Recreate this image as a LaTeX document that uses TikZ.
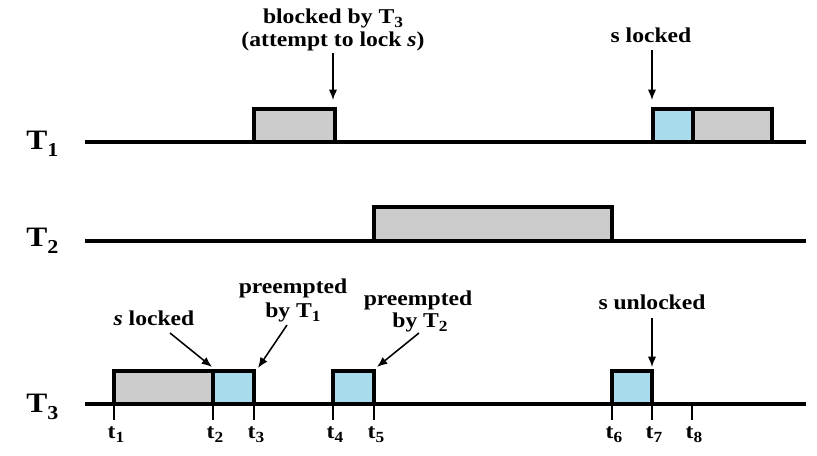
\documentclass[tikz,border=0pt]{standalone}
\usepackage{fontspec}
\setmainfont[FakeStretch=1.12]{Liberation Serif}
\usetikzlibrary{arrows.meta,positioning,calc}
\definecolor{runblue}{RGB}{168,220,236}
\definecolor{rungray}{RGB}{204,204,204}
\newcommand{\tsub}[2]{#1\raisebox{-0.5ex}{\fontsize{11}{11}\selectfont #2}}
\newcommand{\bigtsub}[2]{#1\raisebox{-0.55ex}{\fontsize{14}{14}\selectfont #2}}

\begin{document}
\begin{tikzpicture}[
    x=0.025cm,
    y=-0.025cm,
    >=Latex,
    font=\fontsize{15}{17}\selectfont\bfseries,
    axis/.style={line width=2.2pt},
    tick/.style={line width=1.3pt},
    slot/.style={draw,line width=2.2pt},
    note/.style={inner sep=0pt,anchor=base},
    task/.style={inner sep=0pt,anchor=base west,font=\fontsize{20}{22}\selectfont\bfseries},
    pointer/.style={
        ->,
        line width=1.1pt,
        >={Latex[length=2.6mm,width=2.1mm]}
    }
]
\useasboundingbox (0,0) rectangle (817,455);

% execution slots
\draw[slot,fill=rungray] (254,142) rectangle (335,109);
\draw[slot,fill=runblue] (653,142) rectangle (693,109);
\draw[slot,fill=rungray] (693,142) rectangle (772,109);

\draw[slot,fill=rungray] (374,241) rectangle (612,207);

\draw[slot,fill=rungray] (114,404) rectangle (213,371);
\draw[slot,fill=runblue] (213,404) rectangle (254,371);
\draw[slot,fill=runblue] (333,404) rectangle (374,371);
\draw[slot,fill=runblue] (612,404) rectangle (652,371);

% time lines
\coordinate (s1) at (85,142);
\coordinate (e1) at (806,142);
\coordinate (s2) at (85,241);
\coordinate (e2) at (806,241);
\coordinate (s3) at (85,404);
\coordinate (e3) at (806,404);
\draw[axis] (s1) -- (e1);
\draw[axis] (s2) -- (e2);
\draw[axis] (s3) -- (e3);

\node[task] (T1) at (26,149) {\bigtsub{T}{1}};
\node[task] (T2) at (26,246) {\bigtsub{T}{2}};
\node[task] (T3) at (26,412) {\bigtsub{T}{3}};

% ticks
\foreach \i/\x in {1/114,2/213,3/254,4/333,5/374,6/612,7/652,8/692}{
    \draw[tick] (\x,404) -- (\x,420);
    \node[note] (t\i) at (\x+2,438) {\tsub{t}{\i}};
}

% T1 notes
\node[note] (blockA) at (333,23) {blocked by \tsub{T}{3}};
\node[note] (blockB) at (333,46) {(attempt to lock \textit{s})};
\coordinate (blockTip) at (333,100);
\draw[pointer] (333,53) -- (blockTip);

\node[note] (lockA) at (651,42) {s locked};
\coordinate (lockTip) at (652,100);
\draw[pointer] (652,50) -- (lockTip);

% T3 notes
\node[note] (lockC) at (154,325) {\textit{s} locked};
\coordinate (lockCTip) at (212,367);
\draw[pointer] (170,333) -- (lockCTip);

\node[note] (preA) at (293,293) {preempted};
\node[note] (preB) at (293,317) {by \tsub{T}{1}};
\coordinate (preTip) at (258,368);
\draw[pointer] (287,325) -- (preTip);

\node[note] (preC) at (418,305) {preempted};
\node[note] (preD) at (420,327) {by \tsub{T}{2}};
\coordinate (preCTip) at (377,367);
\draw[pointer] (419,333) -- (preCTip);

\node[note] (unlock) at (652,309) {s unlocked};
\coordinate (unlockTip) at (652,367);
\draw[pointer] (652,318) -- (unlockTip);

\end{tikzpicture}
\end{document}
